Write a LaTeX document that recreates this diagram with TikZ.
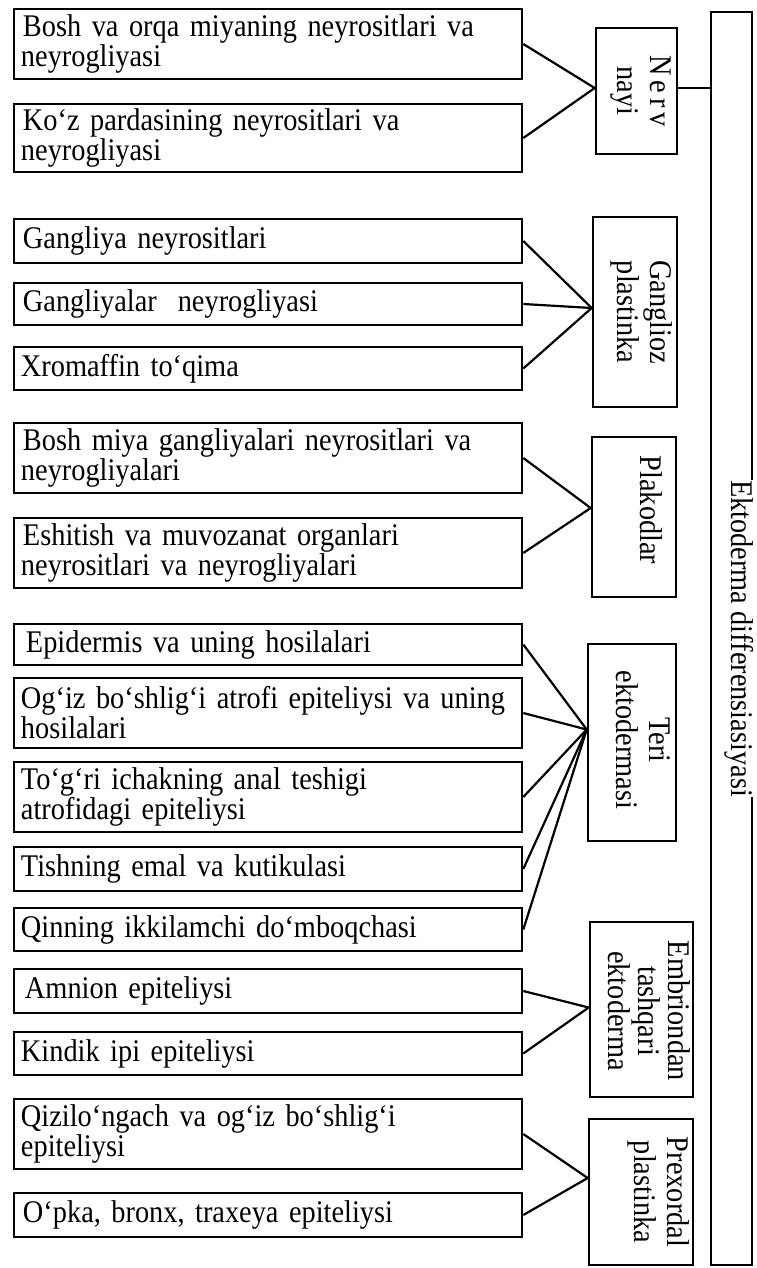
\documentclass[tikz,border=0pt]{standalone}
\usepackage{fontspec}
\setmainfont{Liberation Serif}[FakeStretch=0.9]
\usetikzlibrary{calc}
\newcommand{\rt}[2][1.1]{\rotatebox{-90}{\renewcommand{\arraystretch}{#1}\begin{tabular}{@{}c@{}}#2\end{tabular}}}
\begin{document}
\begin{tikzpicture}[x=1bp,y=-1bp,
  every node/.style={font=\fontsize{31.5bp}{30bp}\selectfont},
  lbox/.style={draw, line width=2.6bp, minimum width=508bp, text width=494bp, inner xsep=7bp, inner ysep=0pt, align=left, anchor=center},
  mbox/.style={draw, line width=2.6bp, inner sep=0pt},
  conn/.style={line width=2.2bp}]
\useasboundingbox (0,0) rectangle (757,1268);

% left boxes
\node[lbox, minimum height=70bp] (L1) at (268,44) {\hspace{2bp}Bosh va orqa miyaning neyrositlari va\\neyrogliyasi};
\node[lbox, minimum height=68bp] (L2) at (268,138) {\hspace{2bp}Ko‘z pardasining neyrositlari va\\neyrogliyasi};
\node[lbox, minimum height=44bp] (L3) at (268,241) {\hspace{2bp}Gangliya neyrositlari};
\node[lbox, minimum height=42bp] (L4) at (268,304) {\hspace{2bp}Gangliyalar\ \ neyrogliyasi};
\node[lbox, minimum height=43bp] (L5) at (268,368.5) {Xromaffin to‘qima};
\node[lbox, minimum height=70bp] (L6) at (268,458) {\hspace{2bp}Bosh miya gangliyalari neyrositlari va\\neyrogliyalari};
\node[lbox, minimum height=70bp] (L7) at (268,553) {\hspace{2bp}\makebox[458bp][s]{Eshitish va muvozanat organlari}\\neyrositlari va neyrogliyalari};
\node[lbox, minimum height=41bp] (L8) at (268,644.5) {\hspace{5bp}Epidermis va uning hosilalari};
\node[lbox, minimum height=70bp] (L9) at (268,713) {Og‘iz bo‘shlig‘i atrofi epiteliysi va uning\\hosilalari};
\node[lbox, minimum height=70bp] (L10) at (268,797) {To‘g‘ri ichakning anal teshigi\\atrofidagi epiteliysi};
\node[lbox, minimum height=44bp] (L11) at (268,869) {Tishning emal va kutikulasi};
\node[lbox, minimum height=43bp] (L12) at (268,929.5) {Qinning ikkilamchi do‘mboqchasi};
\node[lbox, minimum height=44bp] (L13) at (268,991) {\hspace{4bp}Amnion epiteliysi};
\node[lbox, minimum height=43bp] (L14) at (268,1053.5) {Kindik ipi epiteliysi};
\node[lbox, minimum height=70bp] (L15) at (268,1134) {Qizilo‘ngach va og‘iz bo‘shlig‘i\\epiteliysi};
\node[lbox, minimum height=44bp] (L16) at (268,1215) {\hspace{2bp}O‘pka, bronx, traxeya epiteliysi};

% middle boxes
\node[mbox, minimum width=81bp, minimum height=126bp] (N) at (636.5,91) {};
\node (Nt) at (640.5,91) {\rt{{\addfontfeature{LetterSpace=15}Nerv}\\nayi}};
\node[mbox, minimum width=84bp, minimum height=190bp] (G) at (635,312) {};
\node (Gt) at (641,312) {\rt{Ganglioz\\plastinka}};
\node[mbox, minimum width=84bp, minimum height=160bp] (P) at (634,517) {};
\node (Pt) at (647,510) {\rt{Plakodlar}};
\node[mbox, minimum width=88bp, minimum height=197bp] (T) at (632,742.5) {};
\node (Tt) at (640,740) {\rt{Teri\\ektodermasi}};
\node[mbox, minimum width=103bp, minimum height=175bp] (Em) at (641.5,1009.5) {};
\node (Emt) at (645.5,1011) {\rt[0.9]{Embriondan\\tashqari\\ektoderma}};
\node[mbox, minimum width=104bp, minimum height=146bp] (Pr) at (641,1192) {};
\node (Prt) at (658,1192) {\rt{Prexordal\\plastinka}};

% big box
\node[mbox, minimum width=41bp, minimum height=1253bp] (E) at (731.5,638.5) {};
\node[fill=white, inner sep=0.5bp] (Et) at (739,638.5) {\rotatebox{-90}{Ektoderma differensiasiyasi}};

% connectors
\draw[conn] (L1.east) -- ([yshift=3bp]N.west);
\draw[conn] (L2.east) -- ([yshift=3bp]N.west);
\coordinate (ne) at ([yshift=3bp]N.east);
\draw[conn] (ne) -- (ne -| E.west);

\draw[conn] (L3.east) -- ([yshift=4bp]G.west);
\draw[conn] (L4.east) -- ([yshift=4bp]G.west);
\draw[conn] (L5.east) -- ([yshift=4bp]G.west);

\draw[conn] (L6.east) -- ([yshift=9bp]P.west);
\draw[conn] (L7.east) -- ([yshift=9bp]P.west);

\draw[conn] (L8.east) -- ([yshift=13bp]T.west);
\draw[conn] (L9.east) -- ([yshift=13bp]T.west);
\draw[conn] (L10.east) -- ([yshift=13bp]T.west);
\draw[conn] (L11.east) -- ([yshift=13bp]T.west);
\draw[conn] (L12.east) -- ([yshift=13bp]T.west);

\draw[conn] (L13.east) -- ([yshift=2bp]Em.west);
\draw[conn] (L14.east) -- ([yshift=2bp]Em.west);

\draw[conn] (L15.east) -- ([yshift=14bp]Pr.west);
\draw[conn] (L16.east) -- ([yshift=14bp]Pr.west);
\end{tikzpicture}
\end{document}
